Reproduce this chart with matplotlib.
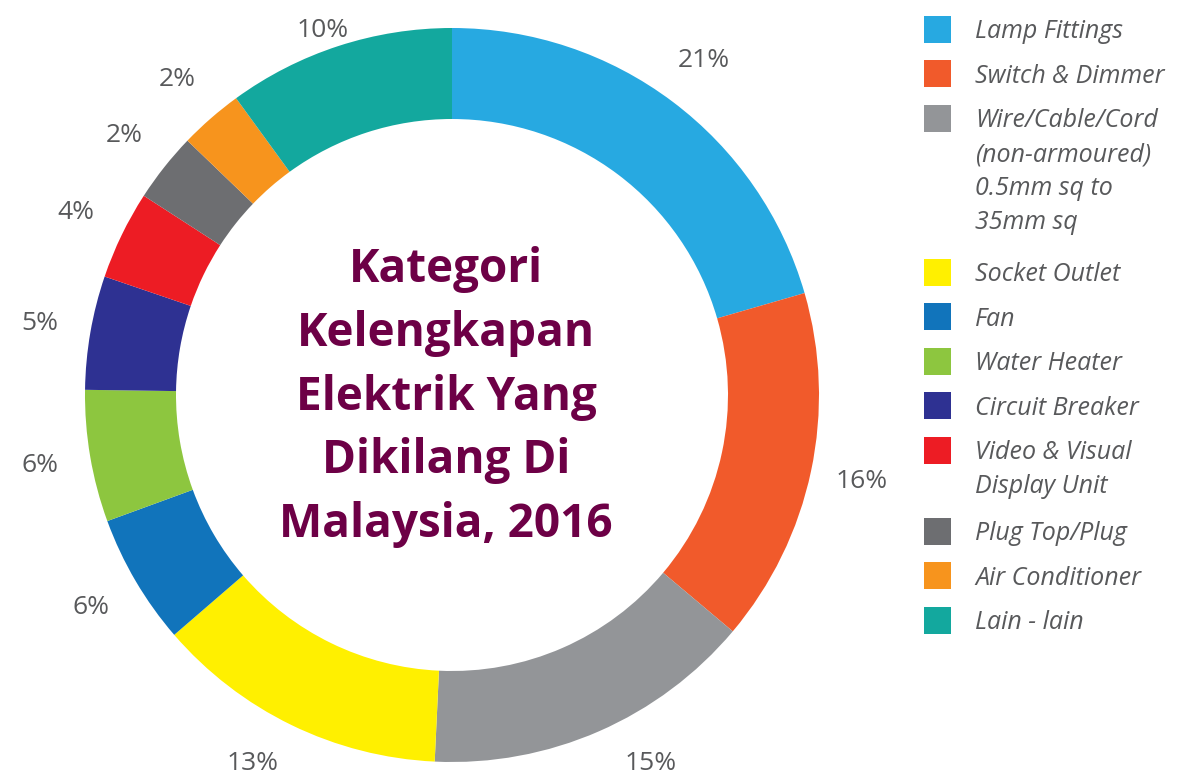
import numpy as np
import matplotlib.pyplot as plt
from matplotlib.patches import Rectangle

# data
categories = ['Lamp Fittings', 'Switch & Dimmer',
              'Wire/Cable/Cord\n(non-armoured)\n0.5mm sq to\n35mm sq',
              'Socket Outlet', 'Fan', 'Water Heater', 'Circuit Breaker',
              'Video & Visual\nDisplay Unit', 'Plug Top/Plug',
              'Air Conditioner', 'Lain - lain']
shares = [20.5, 15.6, 14.6, 12.9, 5.75, 5.8, 5.0, 3.9, 3.05, 2.8, 10.0]
pct_labels = ['21%', '16%', '15%', '13%', '6%', '6%', '5%', '4%', '2%', '2%', '10%']
colors = ['#27a9e1', '#f15a2b', '#939598', '#fff000', '#1174bb', '#8dc63f',
          '#2e3192', '#ed1c24', '#6d6e71', '#f7941d', '#13a89e']
title = 'Kategori\nKelengkapan\nElektrik Yang\nDikilang Di\nMalaysia, 2016'

W, H = 1198, 778
txt_gray = '#58595b'
font = 'Open Sans'

fig = plt.figure(figsize=(W / 100, H / 100), dpi=100)
ax = fig.add_axes([0, 0, 1, 1])

cx, cy, R = 452, H - 395, 367
wedges, texts = ax.pie(shares, labels=pct_labels, colors=colors, startangle=90,
                       counterclock=False, center=(cx, cy), radius=R,
                       labeldistance=1.14,
                       wedgeprops=dict(width=91, edgecolor='none', linewidth=0),
                       textprops=dict(fontsize=19, color=txt_gray, family=font))

# keep labels inside the picture: clamp at the top,
# slide along the label circle at the bottom
r_lab = 1.14 * R
for t in texts:
    t.set_ha('center')
    t.set_va('center')
    x, y = t.get_position()
    if y < 15:
        y = 15
        x = cx + np.sign(x - cx) * np.sqrt(r_lab**2 - (y - cy)**2)
    elif y > H - 30:
        y = H - 30
    t.set_position((x, y))

ax.text(cx - 6, cy - 2, title, ha='center', va='center', fontsize=33,
        family=font, weight='bold', color='#6d0046', linespacing=1.47)

# legend drawn by hand so squares line up with the first text line
y0, step, extra, line_h = 29.2, 44.5, 36.5, 34
extra_lines = 0
for i, (lab, col) in enumerate(zip(categories, colors)):
    yc = y0 + i * step + extra_lines * extra
    ax.add_patch(Rectangle((924, H - yc - 13.5), 27, 27, facecolor=col,
                           edgecolor='none'))
    lines = lab.split('\n')
    for k, ln in enumerate(lines):
        ax.text(975, H - (yc + 9 + k * line_h), ln, ha='left', va='baseline',
                fontsize=18, family=font, style='italic', color=txt_gray)
    extra_lines += len(lines) - 1

ax.set_xlim(0, W)
ax.set_ylim(0, H)
ax.set_aspect('auto')
ax.axis('off')

fig.savefig('out.png', dpi=100, facecolor='white')
